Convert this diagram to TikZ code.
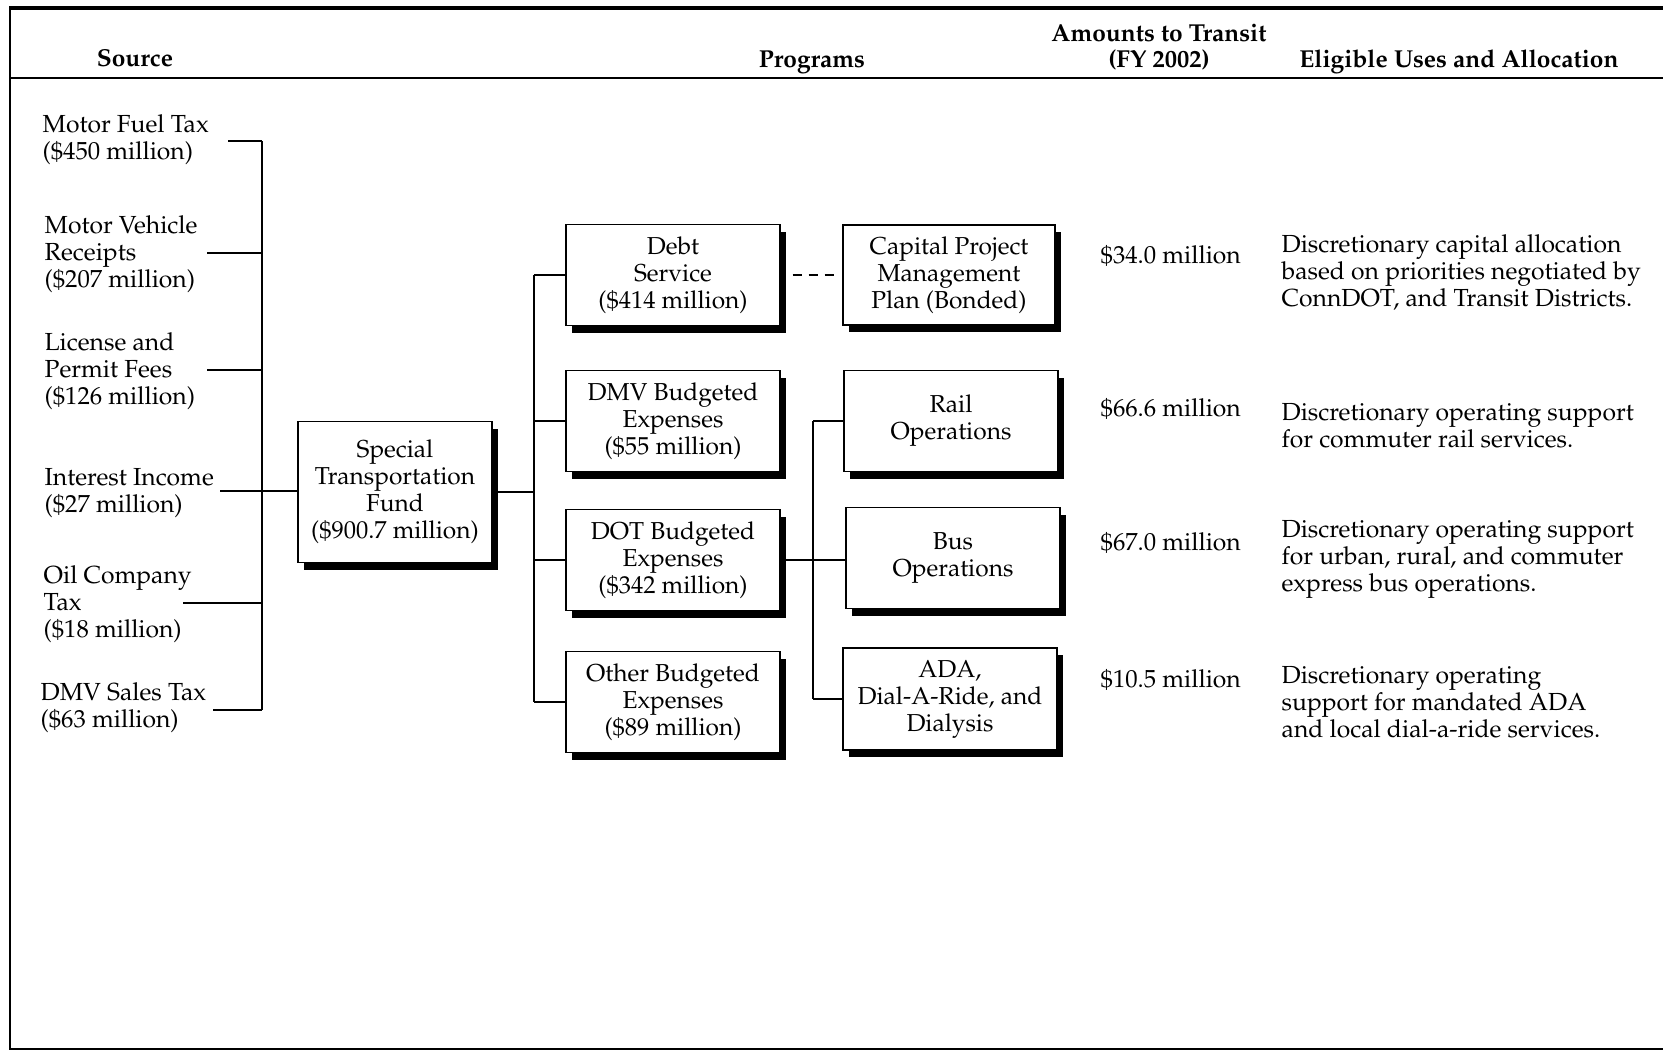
\documentclass[tikz,border=0pt]{standalone}
\usepackage[T1]{fontenc}
\usepackage{mathpazo}
\usetikzlibrary{shadows}

\begin{document}
\begin{tikzpicture}[line width=1.3pt,
  txt/.style={align=left, inner sep=0pt, anchor=base west, font=\fontsize{24.7}{27}\selectfont},
  head/.style={align=center, inner sep=0pt, anchor=base, font=\fontsize{24.5}{26}\selectfont\bfseries},
  box/.style={draw, line width=1.3pt, fill=white, align=center, inner sep=0pt,
    font=\fontsize{24.5}{27}\selectfont, minimum width=214pt, minimum height=101pt,
    drop shadow={shadow xshift=6pt, shadow yshift=-7pt, fill=black, opacity=1}}]
\useasboundingbox (0pt,0pt) rectangle (1663pt,-1050pt);
% frame
\draw[line width=4pt] (9pt,-8pt) -- (1663pt,-8pt);
\draw (10pt,-78pt) -- (1663pt,-78pt);
\draw (10pt,-8pt) -- (10pt,-1049pt) -- (1663pt,-1049pt);
\node[head] (h1) at (135pt,-66pt) {Source};
\node[head] (h2) at (812pt,-67pt) {Programs};
\node[head] (h3) at (1159pt,-67pt) {Amounts to Transit\\(FY 2002)};
\node[head] (h4) at (1459pt,-67pt) {Eligible Uses and Allocation};
% sources
\node[txt] (mft) at (42pt,-159pt) {Motor Fuel Tax\\(\$450 million)};
\node[txt] (mvr) at (44pt,-287pt) {Motor Vehicle\\Receipts\\(\$207 million)};
\node[txt] (lpf) at (44pt,-404pt) {License and\\Permit Fees\\(\$126 million)};
\node[txt] (ii) at (44pt,-512pt) {Interest Income\\(\$27 million)};
\node[txt] (oct) at (43pt,-637pt) {Oil Company\\Tax\\(\$18 million)};
\node[txt] (dst) at (40pt,-727pt) {DMV Sales Tax\\(\$63 million)};
\coordinate (bt) at (262pt,-141pt);
\coordinate (bb) at (262pt,-710pt);
\coordinate (s1) at (228pt,-141pt);
\coordinate (s2) at (207pt,-253pt);
\coordinate (s3) at (207pt,-370pt);
\coordinate (s4) at (220pt,-491pt);
\coordinate (s5) at (183pt,-603pt);
\coordinate (s6) at (213pt,-710pt);
\draw (bt) -- (bb);
\draw (s1) -- (s1 -| bt);
\draw (s2) -- (s2 -| bt);
\draw (s3) -- (s3 -| bt);
\draw (s5) -- (s5 -| bt);
\draw (s6) -- (s6 -| bt);
% fund and programs
\node[box, minimum width=194pt, minimum height=141pt] (stf) at (395pt,-492pt) {Special\\Transportation\\Fund\\ (\$900.7 million)};
\draw (s4) -- (s4 -| stf.west);
\node[box] (debt) at (673pt,-275pt) {Debt\\Service\\(\$414 million)};
\node[box] (dmv) at (673pt,-421pt) {DMV Budgeted\\Expenses\\(\$55 million)};
\node[box] (dot) at (673pt,-560pt) {DOT Budgeted\\Expenses\\(\$342 million)};
\node[box] (other) at (673pt,-702pt) {Other Budgeted\\Expenses\\(\$89 million)};
\coordinate (pb) at (534pt,0pt);
\draw (stf.east) -- (stf.east -| pb);
\draw (debt.west -| pb) -- (other.west -| pb);
\draw (debt.west) -- (debt.west -| pb);
\draw (dmv.west) -- (dmv.west -| pb);
\draw (dot.west) -- (dot.west -| pb);
\draw (other.west) -- (other.west -| pb);
\node[box, minimum width=212pt, minimum height=100pt] (cpmp) at (949pt,-275pt) {Capital Project\\Management\\Plan (Bonded)};
\node[box] (rail) at (951pt,-421pt) {Rail\\Operations};
\node[box] (bus) at (953pt,-558pt) {Bus\\Operations};
\node[box, minimum height=102pt] (ada) at (950pt,-699pt) {ADA,\\Dial-A-Ride, and\\Dialysis};
\draw[dashed, dash pattern=on 9pt off 7pt, shorten <=12pt, shorten >=4pt] (debt.east) -- (cpmp.west);
\coordinate (qb) at (813pt,0pt);
\draw (rail.west -| qb) -- (ada.west -| qb);
\draw (rail.west) -- (rail.west -| qb);
\draw (ada.west) -- (ada.west -| qb);
\draw (dot.east) -- (dot.east -| bus.west);
% amounts and uses
\node[txt] (a1) at (1100pt,-263pt) {\$34.0 million};
\node[txt] (a2) at (1100pt,-416pt) {\$66.6 million};
\node[txt] (a3) at (1100pt,-550pt) {\$67.0 million};
\node[txt] (a4) at (1100pt,-687pt) {\$10.5 million};
\node[txt] (u1) at (1281pt,-306pt) {Discretionary capital allocation\\based on priorities negotiated by\\ConnDOT, and Transit Districts.};
\node[txt] (u2) at (1281pt,-447pt) {Discretionary operating support\\for commuter rail services.};
\node[txt] (u3) at (1281pt,-591pt) {Discretionary operating support\\for urban, rural, and commuter\\express bus operations.};
\node[txt] (u4) at (1281pt,-737pt) {Discretionary operating\\support for mandated ADA\\and local dial-a-ride services.};
\end{tikzpicture}
\end{document}
